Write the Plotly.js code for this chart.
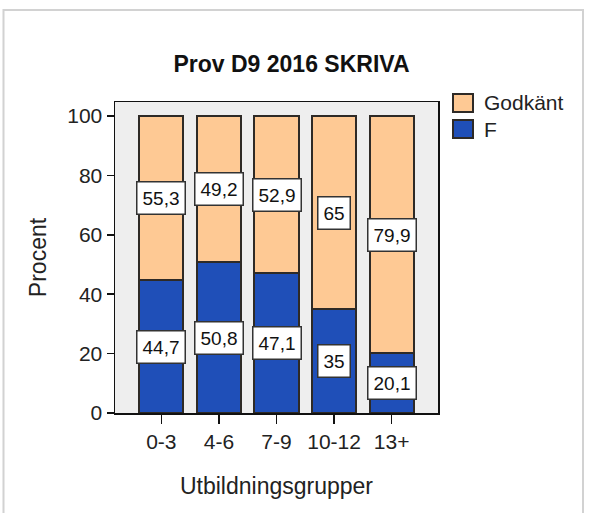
<!DOCTYPE html>
<html>
<head>
<meta charset="utf-8">
<script src="https://cdn.plot.ly/plotly-3.0.1.min.js"></script>
<style>html,body{margin:0;padding:0;background:#fff;}#chart{width:594px;height:513px;}</style>
</head>
<body>
<div id="chart"></div>
<script>
const categories = ['0-3', '4-6', '7-9', '10-12', '13+'];
const godkant = [55.3, 49.2, 52.9, 65, 79.9];
const fail = [44.7, 50.8, 47.1, 35, 20.1];
const seriesNames = ['Godkänt', 'F'];
const yTicks = [0, 20, 40, 60, 80, 100];

const W = 594, H = 513;
const L = 115, R = 438, T = 102, B = 413;
const px = x => (x - L) / (R - L);
const py = y => (B - y) / (B - T);

const peach = '#fec994';
const blue = '#1f4fb8';
const edge = '#2e2a26';
const fmt = v => String(v).replace('.', ',');

const traces = [
  {type: 'bar', name: seriesNames[1], x: categories.map((c, i) => i), y: fail,
   marker: {color: blue, line: {color: edge, width: 2}}, showlegend: false, hoverinfo: 'skip'},
  {type: 'bar', name: seriesNames[0], x: categories.map((c, i) => i), y: godkant,
   marker: {color: peach, line: {color: edge, width: 2}}, showlegend: false, hoverinfo: 'skip'}
];

const font = 'Liberation Sans, Arial, sans-serif';
const annotations = [];
categories.forEach((c, i) => {
  annotations.push({x: i, y: fail[i] / 2, xref: 'x', yref: 'y', text: fmt(fail[i]), showarrow: false,
    bgcolor: '#ffffff', bordercolor: '#333333', borderwidth: 1.5, borderpad: 5,
    font: {family: font, size: 19, color: '#111'}});
  annotations.push({x: i, y: fail[i] + godkant[i] / 2, xref: 'x', yref: 'y', text: fmt(godkant[i]), showarrow: false,
    bgcolor: '#ffffff', bordercolor: '#333333', borderwidth: 1.5, borderpad: 5,
    font: {family: font, size: 19, color: '#111'}});
});
// legend text
annotations.push({x: px(482), y: py(103), xref: 'paper', yref: 'paper', xanchor: 'left', yanchor: 'middle',
  text: seriesNames[0], showarrow: false, font: {family: font, size: 21, color: '#222'}});
annotations.push({x: px(482), y: py(129), xref: 'paper', yref: 'paper', xanchor: 'left', yanchor: 'middle',
  text: seriesNames[1], showarrow: false, font: {family: font, size: 21, color: '#222'}});

const shapes = [
  {type: 'rect', xref: 'paper', yref: 'paper', x0: px(3.5), x1: px(583), y0: py(530), y1: py(10),
   line: {color: '#d2d2d2', width: 2}, fillcolor: 'rgba(0,0,0,0)', layer: 'below'},
  {type: 'rect', xref: 'paper', yref: 'paper', x0: px(453), x1: px(473), y0: py(112), y1: py(94),
   line: {color: edge, width: 2}, fillcolor: peach},
  {type: 'rect', xref: 'paper', yref: 'paper', x0: px(453), x1: px(473), y0: py(138), y1: py(120),
   line: {color: edge, width: 2}, fillcolor: blue}
];

const layout = {
  width: W, height: H,
  margin: {l: L, r: W - R, t: T, b: H - B, pad: 0},
  paper_bgcolor: '#ffffff',
  plot_bgcolor: '#eeeeee',
  barmode: 'stack',
  bargap: 0.235,
  showlegend: false,
  font: {family: font, color: '#222'},
  title: {text: '<b>Prov D9 2016 SKRIVA</b>', xref: 'paper', x: px(291.5), xanchor: 'center',
    yref: 'container', y: 1 - 64 / H, yanchor: 'middle',
    font: {family: font, size: 23, color: '#111'}},
  xaxis: {
    range: [-0.805, 4.805], tickmode: 'array', tickvals: categories.map((c, i) => i), ticktext: categories,
    ticks: 'outside', ticklen: 9, tickwidth: 1.5, tickcolor: '#111',
    showline: true, linecolor: '#111', linewidth: 1.5, mirror: true,
    showgrid: false, zeroline: false,
    tickfont: {family: font, size: 21, color: '#222'},
    title: {text: 'Utbildningsgrupper', standoff: 26, font: {family: font, size: 23, color: '#222'}}
  },
  yaxis: {
    range: [0, 104.7], tickmode: 'array', tickvals: yTicks,
    ticks: 'outside', ticklen: 7, tickwidth: 1.5, tickcolor: '#111',
    showline: true, linecolor: '#111', linewidth: 1.5, mirror: true,
    showgrid: false, zeroline: false,
    tickfont: {family: font, size: 21, color: '#222'},
    title: {text: 'Procent', standoff: 14, font: {family: font, size: 23, color: '#222'}}
  },
  annotations: annotations,
  shapes: shapes
};

Plotly.newPlot('chart', traces, layout, {staticPlot: true, displayModeBar: false});
</script>
</body>
</html>
